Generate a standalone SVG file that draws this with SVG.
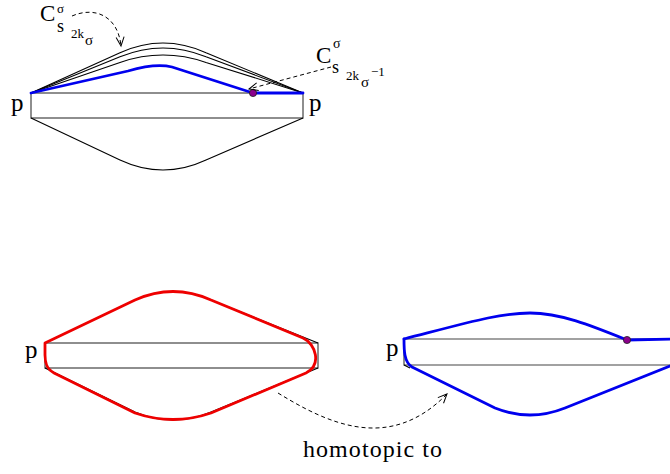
<svg xmlns="http://www.w3.org/2000/svg" width="670" height="474" viewBox="0 0 670 474">
<defs>
<style>
.t{font-family:"Liberation Serif","Times New Roman",serif;fill:#000}
.frame{fill:none;stroke:#000;stroke-width:1.1}
.rect{fill:none;stroke:#444;stroke-width:1.2}
.blue{fill:none;stroke:#0000ee;stroke-width:2.8;stroke-linejoin:round;stroke-linecap:round}
.red{fill:none;stroke:#ee0000;stroke-width:2.8;stroke-linejoin:round}
.dash{fill:none;stroke:#000;stroke-width:1;stroke-dasharray:4 3}
.dot{fill:#8b008b;stroke:#222;stroke-width:0.8}
</style>
<marker id="arr" markerWidth="12" markerHeight="12" refX="10" refY="5" orient="auto" markerUnits="userSpaceOnUse">
<path d="M1,1 L10,5 L1,9" fill="none" stroke="#000" stroke-width="1"/>
</marker>
</defs>
<rect width="670" height="474" fill="#fff"/>

<g id="top-diagram">
<rect class="rect" x="31" y="93" width="272" height="25"/>
<path class="frame" d="M31,93 L120,52.7 Q163,33.3 206,52.7 L303,93"/>
<path class="frame" d="M31,93 L120,56.8 Q163,39.2 206,56.8 L303,93"/>
<path class="frame" d="M31,93 L120,62.4 Q163,47.6 206,62.4 L303,93"/>
<path class="frame" d="M31,118 L120,159.9 Q163,180 206,159.9 L303,118"/>
<path class="blue" d="M31,93 L128,71 C145,66 160,64 172,67 L253,93 L303,93"/>
<circle class="dot" cx="253" cy="93" r="3.6"/>
<text class="t" x="11" y="111" font-size="25">p</text>
<text class="t" x="309" y="111" font-size="25">p</text>
</g>

<g id="label-1">
<text class="t" x="40" y="21" font-size="23">C</text>
<text class="t" x="57" y="12.5" font-size="13">σ</text>
<text class="t" x="57" y="32" font-size="18">s</text>
<text class="t" x="71" y="38" font-size="13">2k</text>
<text class="t" x="85" y="45" font-size="15">σ</text>
</g>

<g id="label-2">
<text class="t" x="316" y="63" font-size="23">C</text>
<text class="t" x="333" y="48" font-size="14">σ</text>
<text class="t" x="332" y="73" font-size="18">s</text>
<text class="t" x="346" y="80" font-size="13">2k</text>
<text class="t" x="361" y="87" font-size="15">σ</text>
<text class="t" x="371" y="76" font-size="13">−1</text>
</g>

<g id="bottom-left">
<rect class="rect" x="45" y="343" width="273" height="25"/>
<path class="frame" d="M45,343 L135,300 Q173,283 211,300 L318,343"/>
<path class="frame" d="M45,368 L135,412 Q173,428 211,412 L318,368"/>
<path class="red" d="M45,343 L135,300 Q173,283 211,300 L303,338 C316,344 322,365 306,373 L211,413 Q173,426 135,413 L54,373 C46,369 45,362 45,355 Z"/>
<text class="t" x="25" y="358" font-size="25">p</text>
</g>

<g id="bottom-right">
<path class="rect" d="M672,339 L404,339 L404,365 L672,365"/>
<path class="frame" d="M404,365 L410,368"/>
<path class="blue" d="M404,339 C470,322 500,313 530,313 C560,313 590,325 627,340 L672,339"/>
<path class="blue" d="M404,339 C404,350 404,362 412,367 L495,408 Q530,422 565,408 L680,362"/>
<circle class="dot" cx="627" cy="340" r="3.6"/>
<text class="t" x="386" y="356" font-size="25">p</text>
</g>

<g id="connectors">
<path class="dash" d="M72,16 C95,6 118,16 121,46" marker-end="url(#arr)"/>
<path class="dash" d="M331,67 L249,89" marker-end="url(#arr)"/>
<path class="dash" d="M278,393 C330,425 390,452 447,394" marker-end="url(#arr)"/>
</g>

<g id="caption">
<text class="t" x="303" y="457" font-size="24" textLength="139">homotopic to</text>
</g>
</svg>
